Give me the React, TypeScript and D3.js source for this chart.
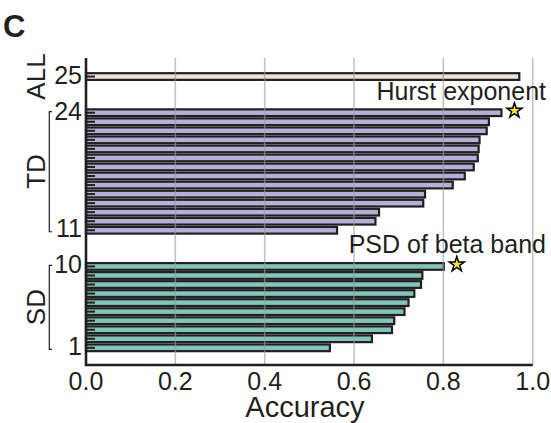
import * as d3 from 'd3';

// accuracy per feature set, bottom (1) to top
const sdIds = [1, 2, 3, 4, 5, 6, 7, 8, 9, 10];
const sdAcc = [0.546, 0.640, 0.685, 0.690, 0.713, 0.722, 0.735, 0.750, 0.753, 0.801];
const tdIds = [11, 12, 13, 14, 15, 16, 17, 18, 19, 20, 21, 22, 23, 24];
const tdAcc = [0.562, 0.648, 0.656, 0.755, 0.759, 0.821, 0.848, 0.868, 0.877, 0.879, 0.881, 0.897, 0.902, 0.930];
const allIds = [25];
const allAcc = [0.970];

const xTicks = [0, 0.2, 0.4, 0.6, 0.8, 1.0];
const yTickIds = [1, 10, 11, 24, 25];

const groups = [
    { name: 'SD', ids: sdIds, acc: sdAcc, fill: '#80c7bb', gap: 0, bracket: true },
    { name: 'TD', ids: tdIds, acc: tdAcc, fill: '#b4b1d9', gap: 3, bracket: true },
    { name: 'ALL', ids: allIds, acc: allAcc, fill: '#eee2da', gap: 6, bracket: false },
];

const stars = [
    { id: 24, acc: 0.930, label: 'Hurst exponent' },
    { id: 10, acc: 0.801, label: 'PSD of beta band' },
];

const W = 551;
const H = 423;
const ink = '#231f20';
const font = '"Liberation Sans", Arial, Helvetica, sans-serif';

// vertical slot for a feature id, with gaps between the groups
const slot = (id: number) => groups.find((g) => g.ids.includes(id))!.gap + id;

export default function App() {
    const x = d3.scaleLinear().domain([0, 1]).range([86, 532.7]);
    const y = d3.scaleLinear().domain([-0.9, 33.05]).range([365, 58]);
    const pitch = y(0) - y(1);
    const barH = pitch * 0.74;
    const star = d3.symbol().type(d3.symbolStar).size(70)() ?? '';

    return (
        <svg
            width={W}
            height={H}
            viewBox={`0 0 ${W} ${H}`}
            style={{ position: 'absolute', left: 0, top: 0, background: '#fff' }}
            fontFamily={font}
        >
            <text x={3} y={37} fontSize={31} fontWeight="bold" fill={ink}>
                C
            </text>

            {groups.map((g) => (
                <g key={g.name}>
                    {g.ids.map((id, i) => (
                        <rect
                            key={id}
                            x={x(0)}
                            y={y(slot(id)) - barH / 2}
                            width={x(g.acc[i]) - x(0)}
                            height={barH}
                            fill={g.fill}
                            stroke={ink}
                            strokeWidth={2.2}
                        />
                    ))}
                    <text
                        transform={`translate(45,${
                            (y(slot(g.ids[0])) + y(slot(g.ids[g.ids.length - 1]))) / 2
                        }) rotate(-90)`}
                        textAnchor="middle"
                        fontSize={26}
                        fill={ink}
                    >
                        {g.name}
                    </text>
                    {g.bracket && (
                        <path
                            d={`M52,${y(slot(g.ids[g.ids.length - 1])) - 1}H49.3V${
                                y(slot(g.ids[0])) + 1.5
                            }H52`}
                            fill="none"
                            stroke={ink}
                            strokeWidth={1.2}
                        />
                    )}
                </g>
            ))}

            {/* grid over bars */}
            {xTicks.slice(1).map((t) => (
                <line
                    key={t}
                    x1={x(t)}
                    x2={x(t)}
                    y1={58}
                    y2={365}
                    stroke="#9a9a9a"
                    strokeOpacity={0.6}
                    strokeWidth={1.6}
                />
            ))}

            {/* inner ticks */}
            {groups.flatMap((g) =>
                g.ids.map((id) => (
                    <line
                        key={`t${id}`}
                        x1={x(0)}
                        x2={x(0) + 9}
                        y1={y(slot(id))}
                        y2={y(slot(id))}
                        stroke={ink}
                        strokeWidth={2}
                    />
                ))
            )}

            <path d={`M${x(0)},58V365H${x(1)}`} fill="none" stroke={ink} strokeWidth={2.6} />

            {yTickIds.map((id) => (
                <text
                    key={id}
                    x={82}
                    y={y(slot(id)) - 2}
                    dominantBaseline="central"
                    textAnchor="end"
                    fontSize={25}
                    fill={ink}
                >
                    {id}
                </text>
            ))}

            {xTicks.map((t) => (
                <text key={t} x={x(t)} y={390} textAnchor="middle" fontSize={25} fill={ink}>
                    {d3.format('.1f')(t)}
                </text>
            ))}
            <text x={305} y={417} textAnchor="middle" fontSize={29} fill={ink}>
                Accuracy
            </text>

            {stars.map((s) => (
                <g key={s.id}>
                    <path
                        d={star}
                        transform={`translate(${x(s.acc) + 13},${y(slot(s.id)) - 2})`}
                        fill="#f2ea2a"
                        stroke="#000"
                        strokeWidth={1.5}
                    />
                    <text
                        x={546}
                        y={y(slot(s.id)) - 13}
                        textAnchor="end"
                        fontSize={25}
                        fill={ink}
                    >
                        {s.label}
                    </text>
                </g>
            ))}
        </svg>
    );
}
